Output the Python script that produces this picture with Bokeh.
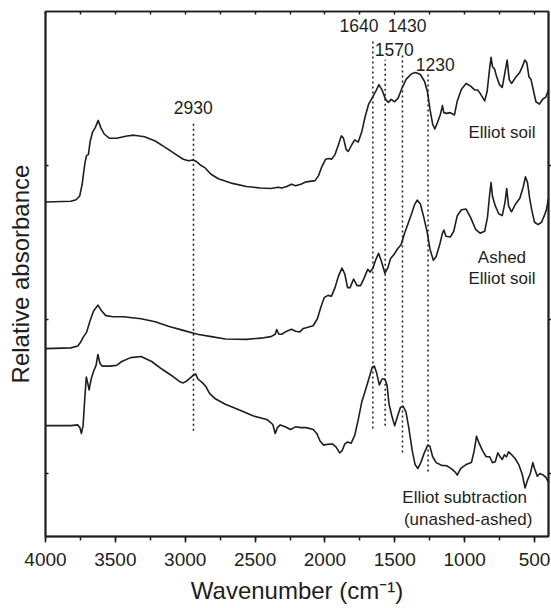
from bokeh.plotting import figure
from bokeh.models import (Range1d, LinearAxis, SingleIntervalTicker, FixedTicker,
                          ColumnDataSource, CustomJSTickFormatter)
from bokeh.embed import file_html
from bokeh.resources import INLINE
from bokeh.core.properties import value

# ---------------- data ----------------
soil_wn = [4000,3819,3781,3756,3738,3718,3706,3693,3681,3663,
           3643,3623,3605,3580,3542,3492,3417,3366,3291,3215,
           3140,3065,3014,2977,2944,2924,2894,2858,2818,2763,
           2662,2562,2461,2386,2335,2310,2273,2240,2210,2172,
           2134,2071,2046,2021,1996,1971,1953,1928,1903,1883,
           1868,1848,1833,1807,1787,1762,1737,1712,1687,1662,
           1636,1614,1591,1566,1546,1526,1501,1475,1450,1418,
           1380,1350,1317,1287,1267,1249,1229,1214,1194,1174,
           1159,1149,1129,1103,1073,1053,1023,990,957,927,
           907,890,857,839,821,811,801,786,771,751,
           731,711,696,681,665,636,605,585,570,555,
           540,525,510,490,465,440,419,400]
soil_abs = [8.60,8.62,8.66,8.75,9.05,9.60,9.80,9.82,10.15,10.40,
            10.52,10.70,10.52,10.35,10.24,10.24,10.30,10.32,10.28,10.17,
            10.00,9.82,9.70,9.66,9.68,9.65,9.56,9.48,9.32,9.20,
            9.08,9.00,8.96,8.95,8.98,8.96,9.00,9.06,9.02,9.06,
            9.12,9.15,9.28,9.52,9.70,9.72,9.70,9.82,10.08,10.30,
            10.25,9.95,9.90,10.08,10.20,10.14,10.40,10.80,11.12,11.28,
            11.45,11.62,11.48,11.24,11.16,11.24,11.18,11.28,11.52,11.76,
            11.90,11.93,11.88,11.70,11.45,11.00,10.60,10.48,10.65,10.85,
            11.08,10.90,10.88,10.90,10.84,11.20,11.50,11.65,11.58,11.48,
            11.48,11.40,11.20,11.45,12.05,12.32,12.08,12.02,11.82,11.62,
            11.55,11.95,12.25,11.75,11.65,11.80,11.94,12.10,12.25,12.18,
            11.82,11.75,11.50,11.18,11.12,11.25,11.30,11.48]

ashed_wn = [4000,3819,3769,3748,3731,3706,3681,3656,3625,3598,
            3568,3517,3442,3316,3215,3115,3014,2914,2813,2713,
            2562,2461,2386,2356,2345,2330,2310,2273,2240,2210,
            2180,2154,2122,2084,2054,2029,2004,1978,1953,1928,
            1903,1878,1858,1838,1820,1795,1770,1745,1719,1694,
            1677,1657,1636,1616,1596,1571,1551,1530,1506,1480,
            1455,1430,1405,1380,1360,1340,1317,1292,1267,1249,
            1224,1204,1179,1159,1149,1134,1103,1078,1053,1023,
            990,957,922,890,857,837,821,811,801,781,
            756,731,711,699,686,665,636,605,580,565,
            550,535,520,500,475,450,430,415,400]
ashed_abs = [4.83,4.85,4.90,5.00,5.12,5.25,5.55,5.80,5.95,5.80,
             5.68,5.65,5.65,5.60,5.52,5.40,5.30,5.20,5.14,5.08,
             5.07,5.10,5.14,5.20,5.32,5.20,5.20,5.28,5.33,5.28,
             5.26,5.35,5.38,5.42,5.60,5.90,6.15,6.20,6.18,6.40,
             6.70,6.90,6.75,6.40,6.40,6.62,6.45,6.45,6.65,6.87,
             6.80,6.90,7.12,7.28,7.08,6.77,6.90,7.15,7.25,7.40,
             7.50,7.80,8.05,8.30,8.52,8.65,8.55,8.20,7.80,7.40,
             7.10,7.20,7.50,7.80,7.88,7.72,7.70,7.85,8.25,8.40,
             8.42,8.20,7.90,7.80,7.85,8.20,8.80,9.10,8.75,8.50,
             8.30,8.25,8.60,8.95,8.50,8.35,8.55,8.70,9.00,9.25,
             9.10,8.70,8.40,8.08,8.02,8.08,8.25,8.40,8.70]

sub_wn = [4000,3819,3769,3754,3743,3731,3718,3708,3698,3688,
          3673,3656,3638,3625,3610,3593,3542,3492,3454,3391,
          3316,3240,3165,3090,3039,3014,2989,2951,2926,2909,
          2876,2851,2826,2788,2713,2612,2511,2411,2373,2356,
          2340,2320,2285,2247,2210,2172,2134,2084,2059,2034,
          2009,1983,1946,1920,1895,1878,1858,1838,1812,1787,
          1762,1737,1707,1682,1662,1646,1631,1611,1591,1571,
          1556,1541,1521,1501,1480,1460,1440,1420,1400,1375,
          1355,1335,1314,1289,1264,1249,1229,1204,1166,1129,
          1098,1066,1053,1028,990,952,932,915,897,871,
          846,821,801,781,763,746,731,716,700,686,
          663,638,613,588,568,550,530,512,500,480,
          462,437,419,400]
sub_abs = [2.85,2.85,2.87,2.80,2.65,2.85,3.60,4.10,3.95,3.77,
           4.05,4.25,4.40,4.68,4.45,4.38,4.38,4.40,4.50,4.60,
           4.63,4.50,4.30,4.12,3.98,3.95,4.00,4.12,4.18,4.05,
           3.95,3.85,3.68,3.55,3.40,3.25,3.10,3.00,2.88,2.65,
           2.80,2.87,2.82,2.75,2.82,2.80,2.80,2.75,2.65,2.45,
           2.35,2.37,2.38,2.30,2.15,2.20,2.38,2.43,2.40,2.60,
           3.00,3.45,3.80,4.10,4.35,4.38,4.22,3.90,4.05,4.05,
           3.90,3.40,3.10,2.85,3.10,3.32,3.35,3.20,2.80,2.20,
           1.85,1.75,1.90,2.15,2.35,2.32,2.05,1.90,1.83,1.82,
           1.75,1.65,1.58,1.75,1.85,1.90,2.20,2.58,2.40,2.20,
           2.05,2.05,1.90,1.92,2.15,2.05,1.98,2.10,2.05,2.18,
           2.10,2.00,1.85,1.60,1.25,1.45,1.62,1.90,1.75,1.55,
           1.62,1.58,1.52,1.40]

band_labels = ["2930", "1640", "1570", "1430", "1230"]
band_wn = [2941, 1657, 1569, 1445, 1262]          # where the dotted markers are drawn
band_top = [10.62, 12.78, 12.26, 12.37, 11.90]
band_bottom = [2.72, 2.78, 2.85, 2.16, 1.67]
band_label_x = [2943, 1757, 1504, 1412, 1210]
band_label_y = [11.03, 13.14, 12.52, 13.14, 12.15]

curve_labels = ["Elliot soil", "Ashed", "Elliot soil", "Elliot subtraction", "(unashed-ashed)"]
curve_label_x = [733, 733, 733, 1000, 975]
curve_label_y = [10.39, 7.17, 6.63, 1.00, 0.44]

y_ticks = [1.62, 5.58, 9.54]

FONT = "Liberation Sans"
INK = "#1e1e1e"

# ---------------- figure ----------------
p = figure(width=551, height=608, output_backend="svg", toolbar_location=None,
           x_range=Range1d(4000, 400), y_range=Range1d(0, 13.5),
           min_border_left=45, min_border_right=3, min_border_top=11, min_border_bottom=72)
p.background_fill_color = "white"
p.border_fill_color = "white"
p.outline_line_color = INK
p.outline_line_width = 1.5
p.xgrid.visible = False
p.ygrid.visible = False

blank = CustomJSTickFormatter(code="return ''")

xa = p.xaxis[0]
xa.ticker = SingleIntervalTicker(interval=500, num_minor_ticks=2)
xa.axis_label = "Wavenumber (cm\u207b\u00b9)"
xa.axis_label_text_font = FONT
xa.axis_label_text_font_size = "24px"
xa.axis_label_text_font_style = "normal"
xa.axis_label_text_color = INK
xa.axis_label_standoff = 8
xa.major_label_text_font = FONT
xa.major_label_text_font_size = "19px"
xa.major_label_text_color = INK
xa.major_label_standoff = 10
xa.major_tick_out = 6
xa.major_tick_in = 0
xa.minor_tick_out = 4
xa.minor_tick_in = 0
xa.axis_line_width = 2
xa.axis_line_color = INK
xa.major_tick_line_color = INK
xa.minor_tick_line_color = INK
xa.major_tick_line_width = 1.5
xa.minor_tick_line_width = 1.5

ya = p.yaxis[0]
ya.ticker = FixedTicker(ticks=y_ticks, minor_ticks=[])
ya.formatter = blank
ya.axis_label = "Relative absorbance"
ya.axis_label_text_font = FONT
ya.axis_label_text_font_size = "24px"
ya.axis_label_text_font_style = "normal"
ya.axis_label_text_color = INK
ya.axis_label_standoff = 12
ya.major_label_text_font_size = "1px"
ya.major_label_standoff = 0
ya.major_tick_in = 3
ya.major_tick_out = 0
ya.minor_tick_in = 0
ya.minor_tick_out = 0
ya.axis_line_width = 2
ya.axis_line_color = INK
ya.major_tick_line_color = INK
ya.major_tick_line_width = 1.5

right = LinearAxis(ticker=FixedTicker(ticks=y_ticks, minor_ticks=[]), formatter=blank,
                   major_label_text_font_size="1px", major_label_standoff=0,
                   major_tick_out=3, major_tick_in=0, minor_tick_out=0, minor_tick_in=0,
                   axis_line_width=2, axis_line_color=INK,
                   major_tick_line_color=INK, major_tick_line_width=1.5)
p.add_layout(right, "right")

top = LinearAxis(ticker=SingleIntervalTicker(interval=250, num_minor_ticks=0), formatter=blank,
                 major_label_text_font_size="1px", major_label_standoff=0,
                 major_tick_out=0, major_tick_in=3, minor_tick_out=0, minor_tick_in=0,
                 axis_line_width=1.5, axis_line_color=INK,
                 major_tick_line_color=INK, major_tick_line_width=1.5)
p.add_layout(top, "above")

# spectra
for wn, ab in ((soil_wn, soil_abs), (ashed_wn, ashed_abs), (sub_wn, sub_abs)):
    p.line(wn, ab, line_color=INK, line_width=1.6, line_join="round")

# dotted band markers
p.segment(x0=band_wn, y0=band_bottom, x1=band_wn, y1=band_top,
          line_color=INK, line_width=1.5, line_dash="2 3")

bsrc = ColumnDataSource(dict(x=band_label_x, y=band_label_y, t=band_labels))
p.text(x="x", y="y", text="t", source=bsrc, text_font=value(FONT),
       text_font_size=value("17.5px"), text_align="center", text_baseline="middle",
       text_color=INK)

csrc = ColumnDataSource(dict(x=curve_label_x, y=curve_label_y, t=curve_labels))
p.text(x="x", y="y", text="t", source=csrc, text_font=value(FONT),
       text_font_size=value("17px"), text_align="center", text_baseline="middle",
       text_color=INK)

open("out.html", "w").write(file_html(p, INLINE))
